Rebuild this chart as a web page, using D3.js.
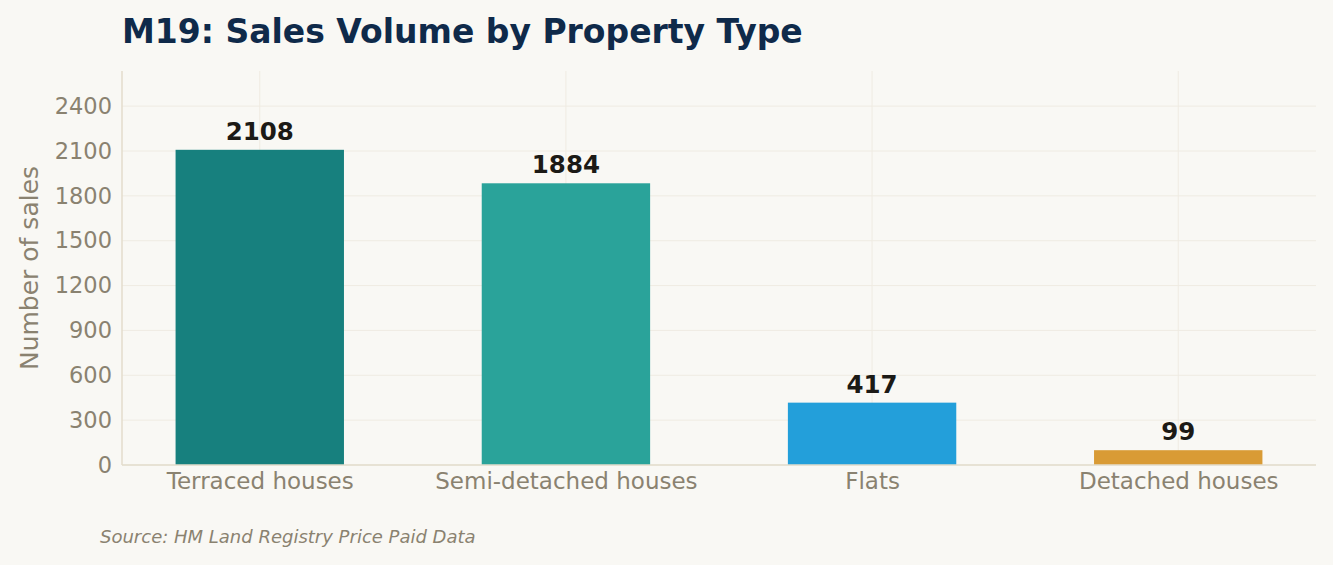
<!DOCTYPE html>
<html>
<head>
<meta charset="utf-8">
<script src="https://cdn.jsdelivr.net/npm/d3@7"></script>
<style>
  html, body { margin: 0; padding: 0; background: #f9f8f4; }
  svg { display: block; font-family: "DejaVu Sans", sans-serif; }
</style>
</head>
<body>
<svg id="chart"></svg>
<script>
// data
var categories = ['Terraced houses', 'Semi-detached houses', 'Flats', 'Detached houses'];
var sales = [2108, 1884, 417, 99];
var barColors = ['#17807e', '#2aa39a', '#239fda', '#d99b35'];
var yTicks = [0, 300, 600, 900, 1200, 1500, 1800, 2100, 2400];

var W = 1333, H = 565,
    mLeft = 122, mRight = 1316, mTop = 71, mBottom = 465;

var svg = d3.select('#chart').attr('width', W).attr('height', H);

svg.append('rect').attr('width', W).attr('height', H).attr('fill', '#f9f8f4');

// category index -> x, with a little margin like matplotlib
var x = d3.scaleLinear().domain([-0.45, categories.length - 0.55]).range([mLeft, mRight]);
var y = d3.scaleLinear().domain([0, d3.max(sales) * 1.25]).range([mBottom, mTop]);
var barW = x(0.55) - x(0);

// grid
svg.append('g').selectAll('line').data(yTicks).enter().append('line')
    .attr('x1', mLeft).attr('x2', mRight)
    .attr('y1', function(d) { return y(d); }).attr('y2', function(d) { return y(d); })
    .attr('stroke', '#efebe2').attr('stroke-width', 1);
svg.append('g').selectAll('line').data(categories).enter().append('line')
    .attr('x1', function(d, i) { return x(i); }).attr('x2', function(d, i) { return x(i); })
    .attr('y1', mTop).attr('y2', mBottom)
    .attr('stroke', '#efebe2').attr('stroke-width', 1);

// bars
svg.append('g').selectAll('rect').data(sales).enter().append('rect')
    .attr('x', function(d, i) { return x(i) - barW / 2; })
    .attr('width', barW)
    .attr('y', function(d) { return y(d); })
    .attr('height', function(d) { return mBottom - y(d); })
    .attr('fill', function(d, i) { return barColors[i]; });

// value labels
svg.append('g').selectAll('text').data(sales).enter().append('text')
    .attr('x', function(d, i) { return x(i); })
    .attr('y', function(d) { return y(d) - 10; })
    .attr('text-anchor', 'middle')
    .attr('font-size', 24.5).attr('font-weight', 'bold').attr('fill', '#1c1a16')
    .text(function(d) { return d; });

// axes
var yAxis = svg.append('g').attr('transform', 'translate(' + mLeft + ',0)')
    .call(d3.axisLeft(y).tickValues(yTicks).tickFormat(d3.format('d')).tickSize(0).tickPadding(10));
yAxis.select('.domain').remove();
yAxis.selectAll('text').attr('font-size', 22.5).attr('fill', '#8a8270')
    .attr('font-family', '"DejaVu Sans", sans-serif');

var xAxis = svg.append('g').attr('transform', 'translate(0,' + mBottom + ')')
    .call(d3.axisBottom(x).tickValues(d3.range(categories.length))
        .tickFormat(function(i) { return categories[i]; }).tickSize(0).tickPadding(8));
xAxis.select('.domain').remove();
xAxis.selectAll('text').attr('font-size', 23).attr('fill', '#8a8270')
    .attr('font-family', '"DejaVu Sans", sans-serif');

// spines
svg.append('line').attr('x1', mLeft).attr('x2', mLeft).attr('y1', mTop).attr('y2', mBottom)
    .attr('stroke', '#e3ddcd').attr('stroke-width', 1.5);
svg.append('line').attr('x1', mLeft).attr('x2', mRight).attr('y1', mBottom).attr('y2', mBottom)
    .attr('stroke', '#e3ddcd').attr('stroke-width', 1.5);

// y label
svg.append('text')
    .attr('transform', 'translate(38,' + ((mTop + mBottom) / 2) + ') rotate(-90)')
    .attr('text-anchor', 'middle')
    .attr('font-size', 25).attr('fill', '#8a8270')
    .text('Number of sales');

// title
svg.append('text').attr('x', mLeft).attr('y', 43)
    .attr('font-size', 33).attr('font-weight', 'bold').attr('fill', '#0f2a4a')
    .text('M19: Sales Volume by Property Type');

// source
svg.append('text').attr('x', 100).attr('y', 543)
    .attr('font-size', 18).attr('font-style', 'italic').attr('fill', '#8a8270')
    .text('Source: HM Land Registry Price Paid Data');
</script>
</body>
</html>
